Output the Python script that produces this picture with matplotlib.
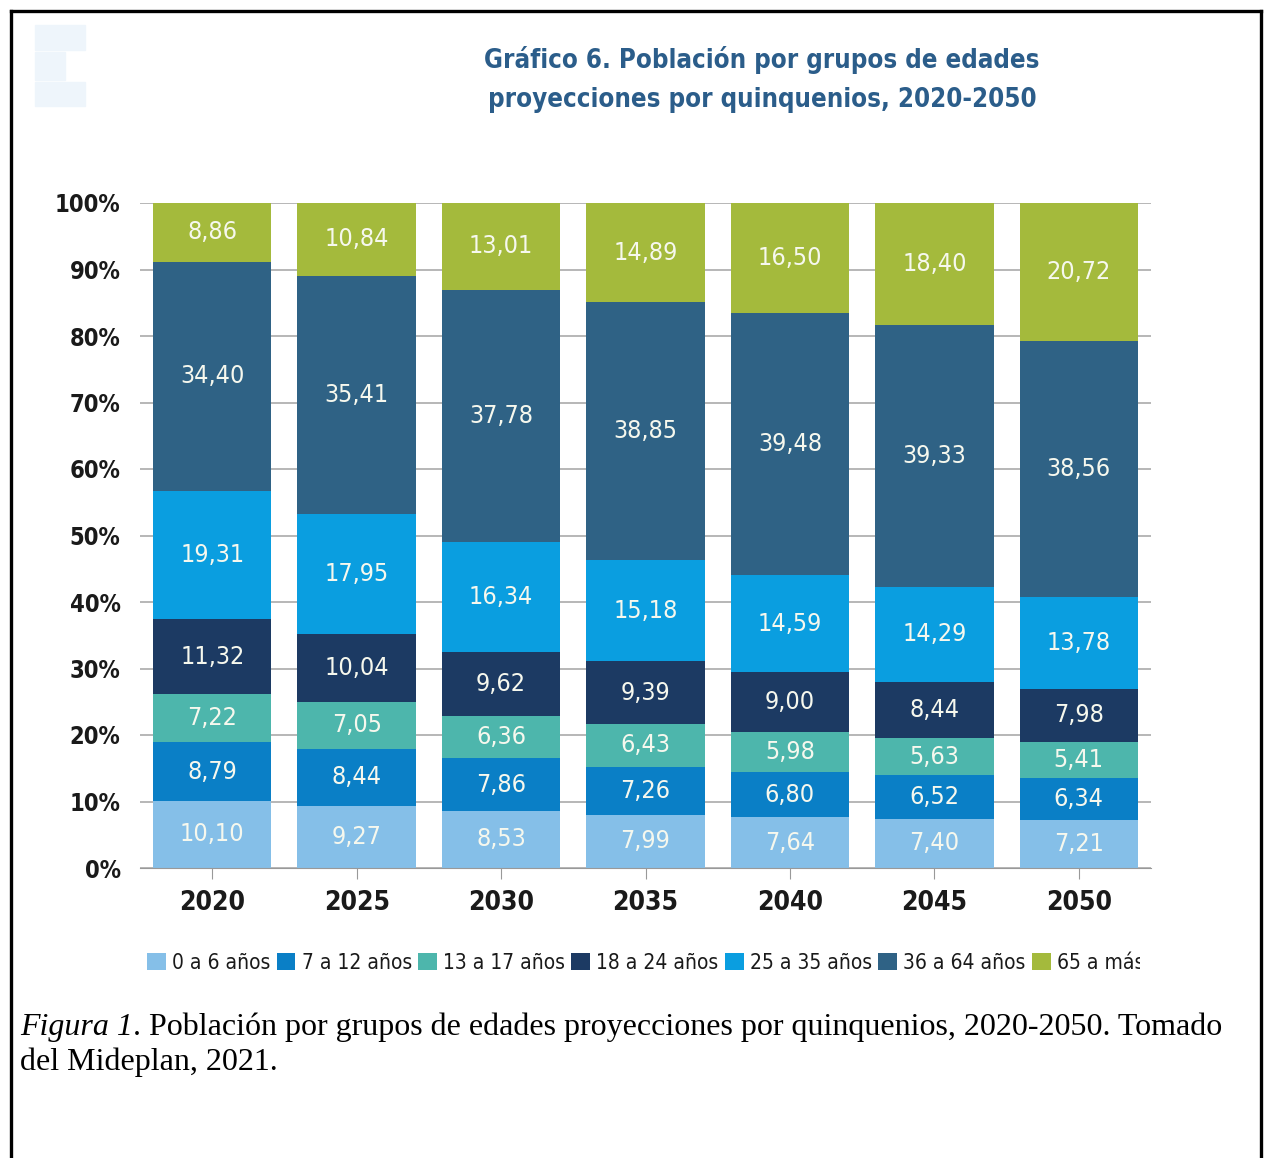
import matplotlib
matplotlib.use("Agg")
import matplotlib.pyplot as plt
from matplotlib import font_manager
from matplotlib.patches import Rectangle
from matplotlib.lines import Line2D
from matplotlib.transforms import Bbox
import numpy as np

# data (percent of population, bottom to top)
years = ["2020", "2025", "2030", "2035", "2040", "2045", "2050"]
groups = ["0 a 6 años", "7 a 12 años", "13 a 17 años", "18 a 24 años",
          "25 a 35 años", "36 a 64 años", "65 a más"]
g0_6 = [10.10, 9.27, 8.53, 7.99, 7.64, 7.40, 7.21]
g7_12 = [8.79, 8.44, 7.86, 7.26, 6.80, 6.52, 6.34]
g13_17 = [7.22, 7.05, 6.36, 6.43, 5.98, 5.63, 5.41]
g18_24 = [11.32, 10.04, 9.62, 9.39, 9.00, 8.44, 7.98]
g25_35 = [19.31, 17.95, 16.34, 15.18, 14.59, 14.29, 13.78]
g36_64 = [34.40, 35.41, 37.78, 38.85, 39.48, 39.33, 38.56]
g65 = [8.86, 10.84, 13.01, 14.89, 16.50, 18.40, 20.72]
series = [g0_6, g7_12, g13_17, g18_24, g25_35, g36_64, g65]
colors = ["#85bfe8", "#0a7fc6", "#4db6ac", "#1c3a63", "#0a9ee0", "#2f6285", "#a4ba3c"]

narrow = ["DejaVu Sans"]
serif = ["Liberation Serif", "DejaVu Serif"]
cond = "condensed"

W, H = 1270, 1158
fig = plt.figure(figsize=(W / 100, H / 100), dpi=100)
fig.patch.set_facecolor("white")

# axes placed from pixel positions
left, right, top, bottom = 140, 1151, 203, 868
ax = fig.add_axes([left / W, 1 - bottom / H, (right - left) / W, (bottom - top) / H])

# 100% stacked: each year scaled to its own total, labels keep the printed values
totals = np.sum(np.array(series), axis=0)
x = np.arange(len(years))
base = np.zeros(len(years))
for vals, col, name in zip(series, colors, groups):
    vals = np.array(vals)
    h = vals / totals * 100
    ax.bar(x, h, bottom=base, width=0.82, color=col, label=name, zorder=2, linewidth=0)
    for xi, b, hh, v in zip(x, base, h, vals):
        ax.text(xi, b + hh / 2, f"{v:.2f}".replace(".", ","), ha="center", va="center",
                color="#f6f8ee", fontsize=18, family=narrow, fontstretch=cond, zorder=3)
    base += h

ax.set_xlim(-0.5, len(years) - 0.5)
ax.set_ylim(0, 100)
ax.set_yticks(np.arange(0, 101, 10))
ax.set_yticklabels([f"{v}%" for v in range(0, 101, 10)], family=narrow, fontstretch=cond,
                   fontsize=17, fontweight="bold", color="#1a1a1a")
ax.set_xticks(x)
ax.set_xticklabels(years, family=narrow, fontstretch=cond, fontsize=19, fontweight="bold",
                   color="#1a1a1a")
ax.tick_params(axis="y", length=0, pad=14)
ax.tick_params(axis="x", length=8, color="#999999", pad=8)
ax.yaxis.grid(True, color="#aaaaaa", linewidth=1.2, zorder=0)
ax.set_axisbelow(True)
for s in ["top", "right", "left"]:
    ax.spines[s].set_visible(False)
ax.spines["bottom"].set_color("#999999")

# title
fig.text(762 / W, 1 - 60 / H, "Gráfico 6. Población por grupos de edades", ha="center",
         va="center", color="#2b5d8a", fontsize=18.5, fontweight="bold", family=narrow,
         fontstretch=cond)
fig.text(762 / W, 1 - 100 / H, "proyecciones por quinquenios, 2020-2050", ha="center",
         va="center", color="#2b5d8a", fontsize=18.5, fontweight="bold", family=narrow,
         fontstretch=cond)

# legend, last label cut off at the right like the source
handles, labels = ax.get_legend_handles_labels()
leg = fig.legend(handles, labels, loc="center left", bbox_to_anchor=(147 / W, 1 - 963 / H),
                 ncol=7, frameon=False,
                 prop=font_manager.FontProperties(family=narrow, stretch=cond, size=15),
                 handlelength=0.9, handleheight=0.9, handletextpad=0.3,
                 columnspacing=0.3, borderpad=0, borderaxespad=0)
clip = Bbox.from_extents(0, 0, 1140, H)
for t in leg.get_texts():
    t.set_color("#1a1a1a")
    t.set_clip_on(True)
    t.set_clip_box(clip)

# caption below the chart
fig.canvas.draw()
r = fig.canvas.get_renderer()
t1 = fig.text(20 / W, 1 - 1027 / H, "Figura 1", fontsize=23, family=serif, style="italic",
              va="center", ha="left")
ext = t1.get_window_extent(renderer=r)
fig.text(ext.x1 / W, 1 - 1027 / H,
         ". Población por grupos de edades proyecciones por quinquenios, 2020-2050. Tomado",
         fontsize=23, family=serif, va="center", ha="left")
fig.text(20 / W, 1 - 1062 / H, "del Mideplan, 2021.", fontsize=23, family=serif,
         va="center", ha="left")

# faint logo remains in the corner
for (x0, y0, w, h) in [(35, 25, 50, 25), (35, 52, 30, 28), (35, 82, 50, 24)]:
    fig.patches.append(Rectangle((x0 / W, 1 - (y0 + h) / H), w / W, h / H,
                                 transform=fig.transFigure, color="#eef5fb", zorder=0))

# page border
for xs, ys in [([11 / W, 11 / W], [0, 1 - 11 / H]), ([1261 / W, 1261 / W], [0, 1 - 11 / H]),
               ([11 / W, 1261 / W], [1 - 11 / H, 1 - 11 / H])]:
    fig.add_artist(Line2D(xs, ys, color="black", linewidth=2.4, transform=fig.transFigure))

plt.savefig("out.png", dpi=100)
